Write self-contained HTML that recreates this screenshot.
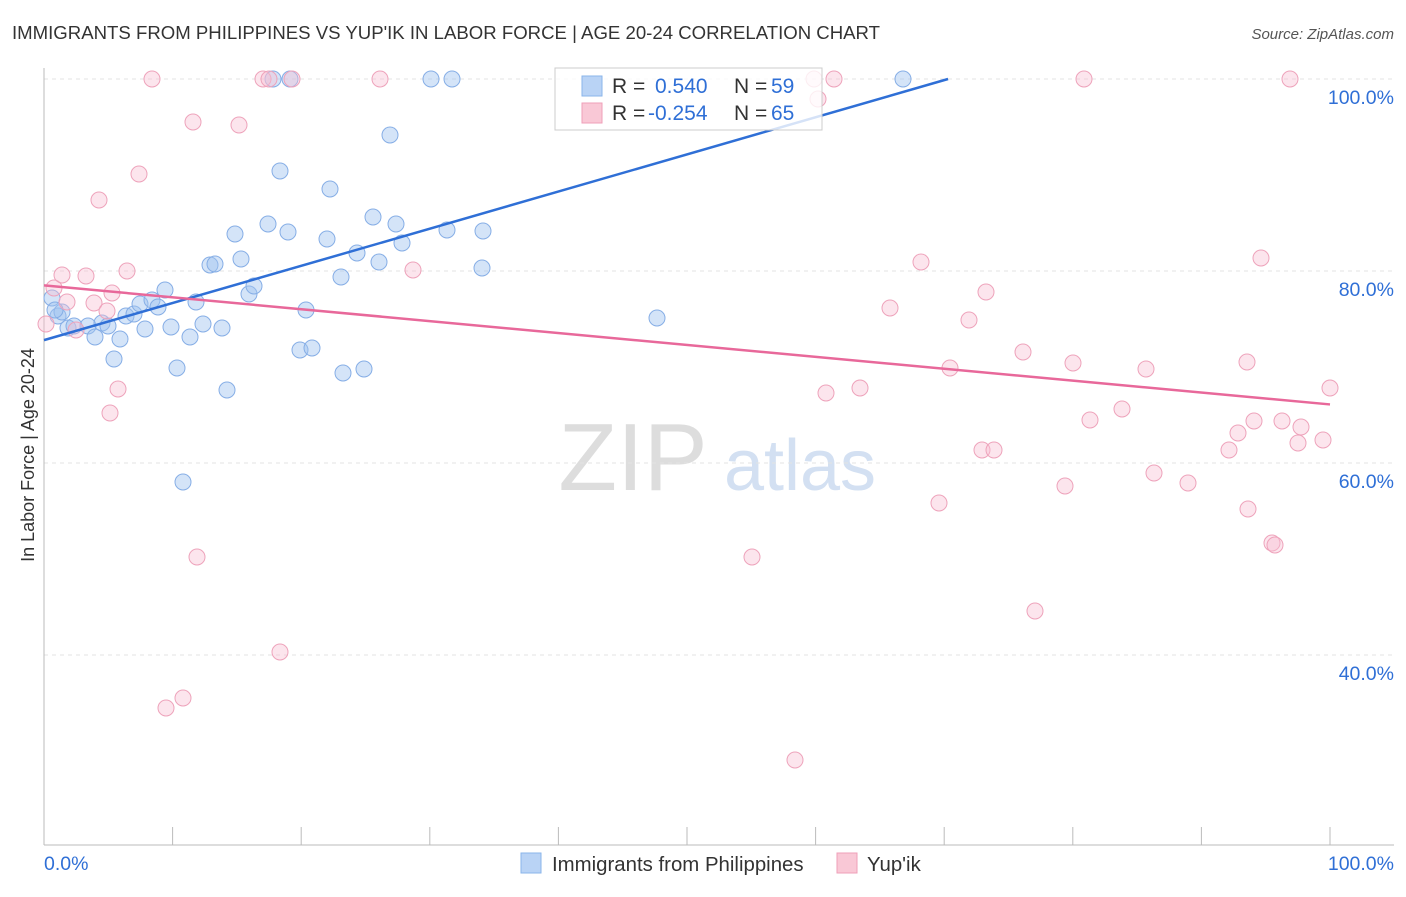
<!DOCTYPE html>
<html><head><meta charset="utf-8"><style>
body{margin:0;background:#fff;font-family:"Liberation Sans",sans-serif;}
svg text{font-family:"Liberation Sans",sans-serif;}
</style></head><body>
<svg id="chart" width="1406" height="892">
<text x="12" y="39" font-size="18.6" fill="#333">IMMIGRANTS FROM PHILIPPINES VS YUP'IK IN LABOR FORCE | AGE 20-24 CORRELATION CHART</text>
<text x="1394" y="39" font-size="15" fill="#555" font-style="italic" text-anchor="end">Source: ZipAtlas.com</text>
<text x="34" y="455" font-size="18" fill="#333" transform="rotate(-90 34 455)" text-anchor="middle">In Labor Force | Age 20-24</text>
<g><text x="633" y="490" font-size="96" fill="#ddd" font-family="Liberation Serif" text-anchor="middle">ZIP</text><text x="800" y="490" font-size="72" fill="#d3e0f2" text-anchor="middle">atlas</text></g>
<g id="grid"></g><g id="pts"></g><g id="lines"></g>
<g>
<rect x="555" y="68" width="267" height="62" fill="rgba(255,255,255,0.8)" stroke="#ccc"/>
<rect x="582" y="76" width="20" height="20" fill="#b9d3f5" stroke="#8ab4ea"/>
<rect x="582" y="103" width="20" height="20" fill="#f9c8d6" stroke="#ef9fb8"/>
<text x="612" y="93" font-size="21" fill="#333">R = </text><text x="655" y="93" font-size="21" fill="#2f6fd6">0.540</text>
<text x="734" y="93" font-size="21" fill="#333">N = </text><text x="771" y="93" font-size="21" fill="#2f6fd6">59</text>
<text x="612" y="120" font-size="21" fill="#333">R = </text><text x="648" y="120" font-size="21" fill="#2f6fd6">-0.254</text>
<text x="734" y="120" font-size="21" fill="#333">N = </text><text x="771" y="120" font-size="21" fill="#2f6fd6">65</text>
</g>
<g>
<rect x="521" y="853" width="20" height="20" fill="#b9d3f5" stroke="#8ab4ea"/>
<text x="552" y="871" font-size="20.4" fill="#333">Immigrants from Philippines</text>
<rect x="837" y="853" width="20" height="20" fill="#f9c8d6" stroke="#ef9fb8"/>
<text x="867" y="871" font-size="20.4" fill="#333">Yup'ik</text>
</g>
<text x="44" y="870" font-size="19.5" fill="#2f6fd6">0.0%</text>
<text x="1394" y="870" font-size="19.5" fill="#2f6fd6" text-anchor="end">100.0%</text>
</svg>
<script>
const yTicks=[100,80,60,40];
const yTickLabels=["100.0%","80.0%","60.0%","40.0%"];
const bluePx=[[52,298],[58,316],[62,312],[68,328],[74,326],[88,326],[95,337],[102,323],[108,326],[114,359],[120,339],[126,316],[134,314],[140,304],[145,329],[152,300],[158,307],[165,290],[171,327],[177,368],[183,482],[190,337],[196,302],[203,324],[210,265],[215,264],[222,328],[227,390],[235,234],[241,259],[249,294],[254,286],[268,224],[280,171],[288,232],[300,350],[306,310],[312,348],[327,239],[330,189],[341,277],[343,373],[357,253],[364,369],[373,217],[379,262],[390,135],[396,224],[402,243],[431,79],[447,230],[452,79],[482,268],[483,231],[657,318],[903,79],[273,79],[290,79],[55,310]];
const pinkPx=[[46,324],[54,288],[62,275],[67,302],[76,330],[86,276],[94,303],[99,200],[107,311],[110,413],[112,293],[118,389],[127,271],[139,174],[152,79],[193,122],[197,557],[166,708],[183,698],[239,125],[263,79],[269,79],[280,652],[292,79],[380,79],[413,270],[752,557],[795,760],[814,79],[818,99],[826,393],[834,79],[860,388],[890,308],[921,262],[939,503],[950,368],[969,320],[982,450],[986,292],[994,450],[1023,352],[1035,611],[1065,486],[1073,363],[1084,79],[1090,420],[1122,409],[1146,369],[1154,473],[1188,483],[1229,450],[1238,433],[1247,362],[1248,509],[1254,421],[1261,258],[1272,543],[1275,545],[1282,421],[1290,79],[1298,443],[1301,427],[1323,440],[1330,388]];
const blueX=bluePx.map(p=>(p[0]-44)/12.86), blueY=bluePx.map(p=>100-(p[1]-79)/9.6);
const pinkX=pinkPx.map(p=>(p[0]-44)/12.86), pinkY=pinkPx.map(p=>100-(p[1]-79)/9.6);
const blueTrend=[[0,72.8],[70.3,100]];
const pinkTrend=[[0,78.5],[100,66.1]];
const X=v=>44+v*12.86, Y=v=>79+(100-v)*9.6;
const NS="http://www.w3.org/2000/svg";
function mk(tag,attrs,parent){const e=document.createElementNS(NS,tag);for(const k in attrs)e.setAttribute(k,attrs[k]);parent.appendChild(e);return e;}
const grid=document.getElementById('grid');
yTicks.forEach((t,i)=>{
 const l=mk('line',{x1:44,x2:1394,y1:Y(t),y2:Y(t),stroke:'#e3e3e3','stroke-dasharray':'4,4'},grid);
 
 
 const tx=mk('text',{x:1394,y:Y(t)+25,'font-size':19.5,fill:'#2f6fd6','text-anchor':'end'},grid);
 tx.textContent=yTickLabels[i];
 
 
});
const ax=mk('line',{x1:44,x2:1394,y1:845,y2:845,stroke:'#bbb'},grid);


const ay=mk('line',{x1:44,x2:44,y1:68,y2:845,stroke:'#bbb'},grid);


for(let i=0;i<=10;i++){const tk=mk('line',{x1:X(i*10),x2:X(i*10),y1:827,y2:845,stroke:'#bbb'},grid);
 
 }
const pts=document.getElementById('pts');
blueX.forEach((x,i)=>{const c=mk('circle',{cx:X(x),cy:Y(blueY[i]),r:8,fill:'rgba(160,195,240,0.45)',stroke:'#86aee6','stroke-width':1},pts);
 
 });
pinkX.forEach((x,i)=>{const c=mk('circle',{cx:X(x),cy:Y(pinkY[i]),r:8,fill:'rgba(248,190,210,0.4)',stroke:'#eea3bb','stroke-width':1},pts);
 
 });
const lines=document.getElementById('lines');
const bl=mk('line',{x1:X(blueTrend[0][0]),y1:Y(blueTrend[0][1]),x2:X(blueTrend[1][0]),y2:Y(blueTrend[1][1]),stroke:'#2f6fd6','stroke-width':2.5},lines);


const pl=mk('line',{x1:X(pinkTrend[0][0]),y1:Y(pinkTrend[0][1]),x2:X(pinkTrend[1][0]),y2:Y(pinkTrend[1][1]),stroke:'#e8689a','stroke-width':2.5},lines);


</script>
</body></html>
